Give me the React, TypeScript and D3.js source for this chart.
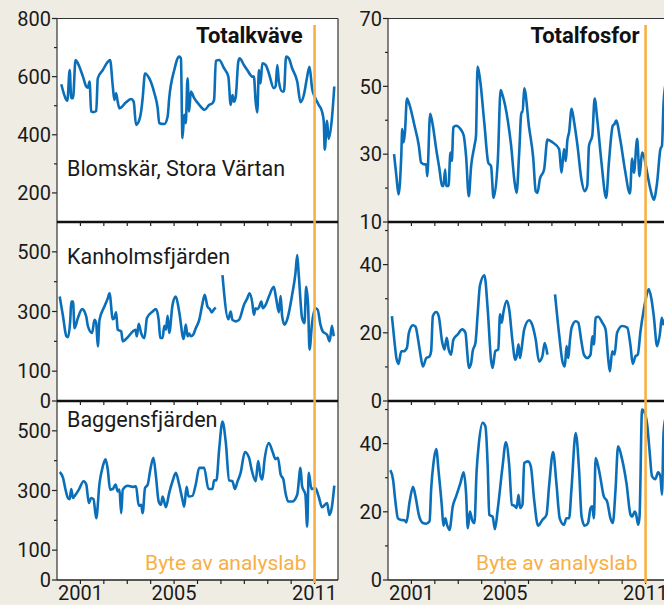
import React from 'react';
import * as d3 from 'd3';

// x values are months counted from Jan 2000
type Pt = [number, number] | null;

const yearTicks = [1, 2, 3, 4, 5, 6, 7, 8, 9, 10, 11];
const yearLabels = [2001, 2005, 2011];
const labSwitchYear = 2011;

// Totalkväve, Blomskär
const blomN: Pt[] = [
  [2.2, 574], [4.8, 520], [5.3, 517], [6.5, 623], [7.3, 526], [8.2, 526], [9.5, 657], [10.7, 646],
  [13.3, 600], [15.0, 566], [15.8, 562], [16.7, 583], [17.5, 480], [18.4, 478], [20.1, 482], [20.9, 594],
  [23.5, 623], [26.0, 651], [27.2, 657], [28.6, 566], [29.4, 520], [30.3, 543], [31.1, 514], [32.0, 491],
  [35.4, 512], [38.0, 523], [39.3, 514], [40.5, 434], [42.2, 451], [43.1, 480], [43.9, 526], [45.1, 611],
  [47.3, 594], [49.9, 543], [51.6, 491], [52.4, 440], [55.0, 437], [56.7, 463], [57.5, 526], [60.1, 623],
  [62.6, 669], [63.5, 663], [64.3, 389], [65.2, 469], [66.0, 440], [66.9, 594], [67.7, 480], [68.6, 549],
  [70.3, 526], [72.9, 503], [75.7, 486], [78.0, 503], [79.7, 509], [80.5, 520], [81.4, 654], [83.1, 657],
  [85.6, 629], [87.8, 600], [89.0, 503], [89.9, 537], [90.7, 514], [91.6, 531], [92.9, 651], [93.6, 663],
  [95.8, 640], [97.5, 623], [100.1, 600], [100.9, 600], [101.8, 514], [102.6, 477], [103.5, 623], [104.3, 577],
  [105.2, 646], [106.9, 640], [108.6, 611], [111.1, 560], [112.0, 566], [112.9, 640], [113.7, 583], [115.4, 549],
  [116.3, 549], [117.4, 669], [118.8, 663], [120.5, 629], [123.1, 583], [124.8, 512], [126.5, 537], [128.2, 600],
  [129.4, 634], [130.7, 560], [132.4, 526], [134.1, 503], [135.8, 480], [136.7, 446], [137.2, 349], [138.4, 448],
  [139.2, 386], [140.9, 457], [142.1, 566],
];

// Totalfosfor, Blomskär
const blomP: Pt[] = [
  [3.1, 30.0], [4.3, 23.5], [5.4, 18.1], [6.8, 29.5], [7.3, 37.4], [8.0, 33.5], [8.7, 36.5], [9.7, 46.4],
  [11.1, 44.4], [13.6, 38.4], [15.8, 32.5], [17.0, 27.5], [18.7, 27.0], [19.6, 27.0], [20.1, 23.5], [21.6, 41.9],
  [23.0, 38.4], [24.7, 31.5], [26.4, 25.5], [27.7, 20.6], [28.4, 20.6], [29.3, 25.5], [29.8, 20.6], [31.0, 20.6],
  [32.0, 30.5], [32.7, 28.0], [33.5, 37.9], [34.9, 38.4], [37.4, 37.2], [38.8, 35.5], [40.0, 29.5], [41.4, 17.6],
  [42.6, 26.5], [44.3, 32.5], [45.1, 35.5], [45.9, 55.8], [47.1, 52.3], [49.4, 38.9], [51.4, 27.5], [52.8, 26.5],
  [54.1, 17.1], [56.3, 28.5], [57.7, 48.9], [58.7, 47.4], [61.4, 39.9], [63.1, 32.5], [64.8, 22.1], [65.9, 18.6],
  [67.2, 30.0], [68.4, 42.4], [69.0, 42.4], [69.8, 49.4], [72.3, 37.9], [74.4, 29.0], [75.7, 19.1], [76.6, 18.6],
  [77.8, 22.6], [80.0, 25.5], [81.7, 34.3], [84.3, 33.5], [87.7, 31.5], [88.9, 24.5], [90.2, 31.5], [91.1, 28.0],
  [91.9, 34.0], [92.8, 36.5], [94.1, 43.4], [95.4, 39.4], [97.1, 32.5], [99.1, 22.6], [100.8, 19.1], [102.1, 20.6],
  [103.0, 32.5], [104.7, 35.5], [105.9, 46.4], [107.2, 40.4], [109.4, 27.5], [111.8, 17.1], [113.2, 27.5], [115.2, 38.4],
  [116.1, 38.9], [116.9, 39.9], [119.1, 34.0], [121.4, 25.5], [124.0, 18.4], [125.1, 28.7], [126.0, 24.5], [127.7, 34.5],
  [128.9, 23.5], [130.2, 30.5], [131.1, 29.5], [132.8, 24.5], [134.5, 19.6], [136.2, 16.6], [137.9, 21.6], [139.6, 31.5],
  [140.4, 32.5], [141.2, 45.0], [142.0, 50.0],
];

// Totalkväve, Kanholmsfjärden
const kanN: Pt[] = [
  [1.4, 350], [3.1, 283], [4.8, 217], [5.6, 214], [6.8, 272], [7.3, 333], [8.2, 333], [9.0, 244],
  [10.7, 278], [12.9, 308], [15.0, 283], [15.8, 252], [18.0, 228], [19.2, 272], [20.1, 261], [20.9, 183],
  [21.8, 272], [24.3, 317], [26.0, 344], [26.9, 361], [28.6, 274], [29.4, 278], [30.3, 297], [31.1, 239],
  [32.9, 233], [33.7, 200], [36.3, 214], [38.8, 233], [40.2, 239], [40.9, 217], [41.9, 259], [43.1, 228],
  [44.8, 211], [46.1, 278], [49.0, 300], [50.7, 308], [52.1, 272], [52.9, 211], [54.1, 211], [55.0, 252],
  [55.8, 239], [56.7, 286], [57.5, 228], [59.2, 322], [60.9, 350], [62.6, 300], [64.9, 208], [66.0, 256],
  [66.9, 217], [67.7, 226], [68.6, 217], [69.8, 222], [71.1, 244], [72.9, 272], [74.6, 328], [75.7, 356],
  [77.1, 317], [78.3, 308], [79.3, 297], [80.5, 308], [81.4, 313],
  null,
  [84.8, 422], [87.8, 274], [89.0, 300], [89.9, 272], [91.6, 267], [93.3, 272], [95.8, 322], [97.5, 344],
  [98.7, 361], [100.1, 328], [100.9, 289], [101.8, 311], [102.6, 308], [103.5, 314], [104.7, 333], [105.5, 311],
  [106.9, 322], [108.6, 350], [111.1, 383], [112.3, 344], [113.7, 297], [114.6, 352], [115.4, 283], [116.6, 256],
  [117.9, 272], [120.5, 356], [122.2, 428], [123.1, 489], [123.9, 422], [125.6, 278], [126.8, 261], [127.7, 383],
  [128.7, 317], [129.4, 172], [130.7, 261], [132.4, 311], [133.6, 306], [135.0, 256], [136.2, 233], [138.4, 222],
  [139.7, 200], [140.9, 252], [141.8, 217],
];

// Totalfosfor, Kanholmsfjärden
const kanP: Pt[] = [
  [2.0, 24.9], [3.4, 17.0], [4.3, 12.6], [5.4, 10.9], [6.8, 14.6], [8.0, 14.6], [9.7, 15.6], [10.7, 20.0],
  [12.8, 22.2], [14.1, 21.8], [15.3, 18.5], [16.5, 14.1], [17.9, 10.1], [19.6, 12.6], [21.3, 13.1], [22.1, 14.6],
  [23.0, 24.9], [24.7, 26.1], [26.0, 24.9], [27.7, 17.5], [28.9, 15.1], [30.1, 18.5], [31.1, 15.1], [32.3, 13.6],
  [33.5, 18.0], [35.7, 19.5], [38.0, 21.0], [39.7, 20.0], [40.5, 15.1], [41.4, 9.7], [42.6, 11.1], [43.4, 14.6],
  [44.8, 17.0], [46.0, 25.9], [47.1, 33.8], [49.4, 36.9], [51.1, 26.9], [52.8, 12.1], [53.6, 9.7], [55.0, 14.6],
  [56.5, 15.1], [57.4, 25.4], [58.3, 23.0], [59.1, 25.9], [60.9, 29.4], [62.1, 26.9], [63.8, 17.5], [65.2, 12.1],
  [65.9, 13.1], [66.9, 16.6], [67.6, 12.6], [68.4, 15.1], [69.8, 21.0], [72.3, 23.7], [74.0, 22.2], [75.7, 18.0],
  [77.4, 11.6], [79.1, 13.1], [80.3, 17.0], [81.7, 13.6],
  null,
  [85.6, 31.3], [87.7, 19.5], [89.4, 11.6], [90.6, 10.1], [91.5, 16.1], [92.4, 12.6], [93.1, 17.0], [94.1, 21.5],
  [96.2, 23.4], [97.5, 23.0], [99.1, 17.5], [100.4, 13.6], [102.1, 12.6], [103.8, 13.6], [104.7, 19.0], [105.5, 16.6],
  [106.4, 24.4], [107.7, 24.7], [109.8, 23.0], [111.5, 21.0], [112.9, 12.1], [113.7, 8.7], [114.9, 14.6], [116.1, 13.6],
  [117.4, 20.0], [120.0, 22.0], [122.6, 21.5], [124.3, 16.1], [125.4, 10.9], [126.8, 13.1], [128.0, 13.6], [129.4, 20.5],
  [131.1, 26.9], [131.9, 29.4], [133.6, 32.8], [135.0, 29.9], [136.2, 24.9], [137.9, 16.1], [139.4, 20.0], [140.3, 24.4],
  [140.9, 22.5], [142.0, 24.0],
];

// Totalkväve, Baggensfjärden
const bagN: Pt[] = [
  [1.4, 362], [3.1, 342], [4.3, 305], [5.6, 275], [6.5, 271], [7.3, 305], [8.2, 275], [9.5, 286],
  [11.2, 303], [13.6, 331], [15.0, 320], [16.3, 258], [17.5, 275], [18.7, 271], [20.1, 207], [21.8, 325],
  [23.5, 382], [24.9, 405], [26.0, 371], [27.2, 303], [28.6, 305], [30.0, 320], [31.1, 297], [32.0, 303],
  [32.9, 224], [33.7, 303], [36.3, 316], [38.8, 312], [40.5, 314], [41.9, 249], [43.1, 252], [43.9, 224],
  [45.1, 308], [46.5, 320], [47.7, 365], [49.4, 410], [50.7, 348], [52.1, 263], [53.3, 252], [54.1, 280],
  [55.8, 244], [57.5, 292], [59.2, 331], [60.9, 359], [62.6, 320], [64.3, 269], [65.2, 246], [66.4, 312],
  [67.4, 280], [69.4, 282], [71.1, 320], [72.9, 376], [75.4, 376], [77.6, 305], [79.7, 305], [80.5, 334],
  [81.7, 334], [83.1, 438], [84.8, 531], [86.5, 461], [88.2, 334], [89.9, 331], [91.2, 305], [92.4, 328],
  [94.1, 359], [96.3, 429], [98.4, 410], [99.7, 371], [101.8, 331], [103.1, 399], [104.3, 348], [105.2, 337],
  [106.4, 405], [108.6, 459], [110.6, 427], [112.0, 405], [113.2, 410], [114.6, 354], [116.0, 337], [117.1, 292],
  [118.5, 263], [120.5, 263], [123.1, 286], [124.8, 376], [125.6, 314], [127.3, 286], [128.2, 179], [129.0, 359],
  [130.4, 305], [132.4, 308], [134.1, 280], [135.8, 244], [138.4, 258], [139.6, 218], [140.9, 246], [142.1, 316],
];

// Totalfosfor, Baggensfjärden
const bagP: Pt[] = [
  [1.2, 32.2], [2.6, 29.4], [3.7, 23.5], [5.1, 18.1], [6.8, 17.6], [8.5, 17.5], [9.4, 16.9], [11.1, 23.0],
  [12.8, 27.3], [14.1, 24.5], [15.8, 19.1], [17.9, 16.7], [19.6, 16.5], [21.3, 17.2], [22.1, 26.5], [23.3, 34.3],
  [24.7, 38.4], [26.0, 31.4], [27.6, 21.6], [28.4, 15.9], [29.4, 18.1], [30.1, 16.5], [31.5, 14.7], [33.2, 21.6],
  [34.9, 24.5], [37.1, 28.4], [38.8, 31.6], [40.0, 25.5], [40.9, 15.2], [42.0, 20.1], [43.1, 17.6], [44.3, 16.7],
  [45.4, 31.9], [46.5, 39.7], [48.5, 46.1], [49.9, 45.1], [51.1, 33.3], [51.9, 19.1], [53.6, 18.6], [54.8, 14.9],
  [56.2, 20.6], [58.7, 33.3], [60.4, 40.4], [62.1, 33.8], [63.5, 22.1], [64.7, 21.8], [65.9, 21.1], [66.9, 25.0],
  [67.7, 21.1], [68.9, 22.1], [69.8, 34.3], [71.8, 34.8], [73.2, 33.3], [74.9, 23.5], [76.9, 15.9], [79.1, 17.6],
  [81.2, 19.1], [82.6, 27.9], [84.6, 37.5], [86.3, 28.4], [88.0, 18.1], [90.2, 16.2], [91.4, 18.1], [92.8, 18.1],
  [94.0, 26.5], [96.2, 43.1], [97.9, 32.4], [99.2, 18.6], [100.8, 15.9], [102.5, 16.7], [103.8, 21.1], [104.7, 21.6],
  [105.5, 18.1], [106.4, 35.8], [108.4, 31.4], [110.6, 24.5], [112.3, 23.0], [114.0, 18.1], [115.2, 16.7], [116.6, 26.5],
  [117.9, 39.2], [120.0, 35.3], [122.2, 28.4], [124.3, 19.1], [125.1, 18.6], [126.5, 20.1], [127.1, 19.4], [128.2, 16.2],
  [128.9, 18.6], [130.2, 50.0], [131.6, 49.0], [132.8, 45.6], [134.0, 38.2], [135.3, 30.4], [137.0, 29.6], [138.4, 31.6],
  [139.6, 30.4], [140.4, 25.0], [141.2, 43.0], [142.0, 47.0],
];

const stations = ['Blomskär, Stora Värtan', 'Kanholmsfjärden', 'Baggensfjärden'];
const titles = ['Totalkväve', 'Totalfosfor'];
const switchLabel = 'Byte av analyslab';

interface Panel {
  col: number;
  row: number;
  data: Pt[];
  domain: [number, number];
  major: number[];
  minor: number[];
}

const panels: Panel[] = [
  { col: 0, row: 0, data: blomN, domain: [100, 800], major: [200, 400, 600, 800], minor: [300, 500, 700] },
  { col: 1, row: 0, data: blomP, domain: [10, 70], major: [10, 30, 50, 70], minor: [20, 40, 60] },
  { col: 0, row: 1, data: kanN, domain: [0, 600], major: [0, 100, 300, 500], minor: [200, 400] },
  { col: 1, row: 1, data: kanP, domain: [0, 52.5], major: [0, 20, 40], minor: [10, 30, 50] },
  { col: 0, row: 2, data: bagN, domain: [0, 600], major: [0, 100, 300, 500], minor: [200, 400] },
  { col: 1, row: 2, data: bagP, domain: [0, 52.5], major: [0, 20, 40], minor: [10, 30, 50] },
];

const W = 664;
const H = 605;
const colX: [number, number][] = [[57, 338], [388, 669]];
const rowY: [number, number][] = [[18.5, 222], [222, 401], [401, 580]];
const BLUE = '#0a6fb8';
const ORANGE = '#f8b045';
const BG = '#efede3';
const FONT = 'Roboto, "DejaVu Sans", sans-serif';

const App = () => {
  const xScales = colX.map(r => d3.scaleLinear().domain([0, 144]).range(r));

  return (
    <svg width={W} height={H} style={{ position: 'absolute', left: 0, top: 0, background: BG }}
      fontFamily={FONT}>
      <rect x={0} y={0} width={W} height={H} fill={BG} />
      <defs>
        {panels.map((p, i) => (
          <clipPath id={`clip${i}`} key={i}>
            <rect x={colX[p.col][0]} y={rowY[p.row][0]} width={colX[p.col][1] - colX[p.col][0]}
              height={rowY[p.row][1] - rowY[p.row][0]} />
          </clipPath>
        ))}
      </defs>

      {panels.map((p, i) => {
        const x = xScales[p.col];
        const y = d3.scaleLinear().domain(p.domain).range([rowY[p.row][1], rowY[p.row][0]]);
        const line = d3.line<Pt>()
          .defined(d => d !== null)
          .x(d => x((d as [number, number])[0]))
          .y(d => y((d as [number, number])[1]))
          .curve(d3.curveMonotoneX);
        const x0 = colX[p.col][0];
        return (
          <g key={i}>
            <rect x={x0} y={rowY[p.row][0]} width={colX[p.col][1] - x0}
              height={rowY[p.row][1] - rowY[p.row][0]} fill="#fff" />
            <path d={line(p.data) || ''} fill="none" stroke={BLUE} strokeWidth={2.6}
              strokeLinejoin="round" clipPath={`url(#clip${i})`} />
            {p.major.map(v => (
              <g key={'M' + v}>
                <line x1={x0 - 5} x2={x0} y1={y(v)} y2={y(v)} stroke="#222" strokeWidth={1.2} />
                <text x={x0 - 6} y={y(v)} dy="0.36em" textAnchor="end" fontSize={20} fill="#1a1a1a">{v}</text>
              </g>
            ))}
            {p.minor.map(v => (
              <line key={'m' + v} x1={x0 - 3} x2={x0} y1={y(v)} y2={y(v)} stroke="#222" strokeWidth={1.2} />
            ))}
          </g>
        );
      })}

      {colX.map((r, c) => {
        const x = xScales[c];
        const xs = x((labSwitchYear - 2000) * 12);
        return (
          <g key={'c' + c}>
            {/* frame */}
            <line x1={r[0]} x2={r[0]} y1={rowY[0][0]} y2={rowY[2][1]} stroke="#333" strokeWidth={1.2} />
            <line x1={r[1]} x2={r[1]} y1={rowY[0][0]} y2={rowY[2][1]} stroke="#333" strokeWidth={1.2} />
            <line x1={r[0]} x2={r[1]} y1={rowY[0][0]} y2={rowY[0][0]} stroke="#333" strokeWidth={1.2} />
            <line x1={r[0]} x2={r[1]} y1={rowY[0][1]} y2={rowY[0][1]} stroke="#111" strokeWidth={2.6} />
            <line x1={r[0]} x2={r[1]} y1={rowY[1][1]} y2={rowY[1][1]} stroke="#111" strokeWidth={2.6} />
            <line x1={r[0]} x2={r[1]} y1={rowY[2][1]} y2={rowY[2][1]} stroke="#222" strokeWidth={1.6} />
            {rowY.map((ry, k) => yearTicks.map(t => (
              <line key={`t${k}-${t}`} x1={x(t * 12)} x2={x(t * 12)} y1={ry[1]} y2={ry[1] + 4}
                stroke="#222" strokeWidth={1.2} />
            )))}
            <line x1={xs} x2={xs} y1={25} y2={583} stroke={ORANGE} strokeWidth={2.6} />
            <text x={xs - 8} y={570} textAnchor="end" fontSize={21} fill={ORANGE}>{switchLabel}</text>
            <text x={c === 0 ? xs - 12 : xs - 6} y={43} textAnchor="end" fontSize={22} fontWeight="bold"
              fill="#111">{titles[c]}</text>
            {yearLabels.map(yr => (
              <text key={yr} x={x((yr - 2000) * 12)} y={600} textAnchor="middle" fontSize={20}
                fill="#1a1a1a">{yr}</text>
            ))}
          </g>
        );
      })}

      <text x={67} y={176} fontSize={21.5} fill="#1a1a1a">{stations[0]}</text>
      <text x={67} y={264} fontSize={21.5} fill="#1a1a1a">{stations[1]}</text>
      <text x={67} y={427} fontSize={21.5} fill="#1a1a1a">{stations[2]}</text>
    </svg>
  );
};

export default App;
